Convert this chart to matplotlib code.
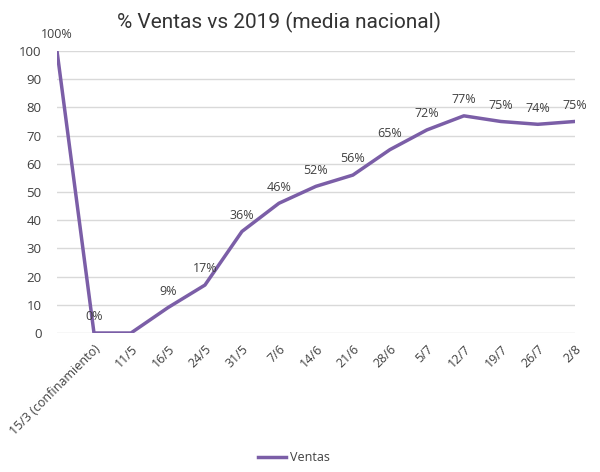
import matplotlib
matplotlib.use("Agg")
import matplotlib.pyplot as plt

# datos
fechas = ["", "15/3 (confinamiento)", "11/5", "16/5", "24/5", "31/5", "7/6",
          "14/6", "21/6", "28/6", "5/7", "12/7", "19/7", "26/7", "2/8"]
ventas = [100, 0, 0, 9, 17, 36, 46, 52, 56, 65, 72, 77, 75, 74, 75]
etiquetas = ["100%", "0%", "", "9%", "17%", "36%", "46%", "52%", "56%",
             "65%", "72%", "77%", "75%", "74%", "75%"]

color = "#7B5EA7"
texto = "#404040"

fig = plt.figure(figsize=(6, 4.72), dpi=100)
ax = fig.add_axes([0.095, 0.2945, 0.863, 0.5975])

x = list(range(len(fechas)))
ax.plot(x, ventas, color=color, lw=2.5, label="Ventas", solid_joinstyle="round")

for xi, yi, lab in zip(x, ventas, etiquetas):
    if lab:
        ax.annotate(lab, (xi, yi), xytext=(0, 7), textcoords="offset points",
                    ha="center", va="bottom", fontsize=9, color=texto,
                    family="Open Sans")

ax.set_xlim(0, len(fechas) - 1)
ax.set_ylim(0, 100)
ax.set_yticks(range(0, 101, 10))
ax.set_xticks(x)
ax.set_xticklabels(fechas, rotation=45, ha="right", rotation_mode="anchor",
                   fontsize=9, color=texto, family="Open Sans")
ax.tick_params(axis="y", labelsize=9.5, labelcolor=texto, length=0, pad=11)
ax.tick_params(axis="x", length=0, pad=7)
for lbl in ax.get_yticklabels():
    lbl.set_family("Open Sans")

ax.grid(axis="y", color="#D9D9D9", lw=1)
ax.set_axisbelow(True)
for s in ax.spines.values():
    s.set_visible(False)

fig.text(0.465, 0.952, "% Ventas vs 2019 (media nacional)", ha="center",
         va="center", fontsize=15, color="#333333", family="Roboto")

fig.legend(loc="center", bbox_to_anchor=(0.49, 0.03), frameon=False,
           prop={"family": "Open Sans", "size": 9}, handlelength=2.2,
           handletextpad=0.3, labelcolor=texto)

fig.savefig("out.png", dpi=100)
